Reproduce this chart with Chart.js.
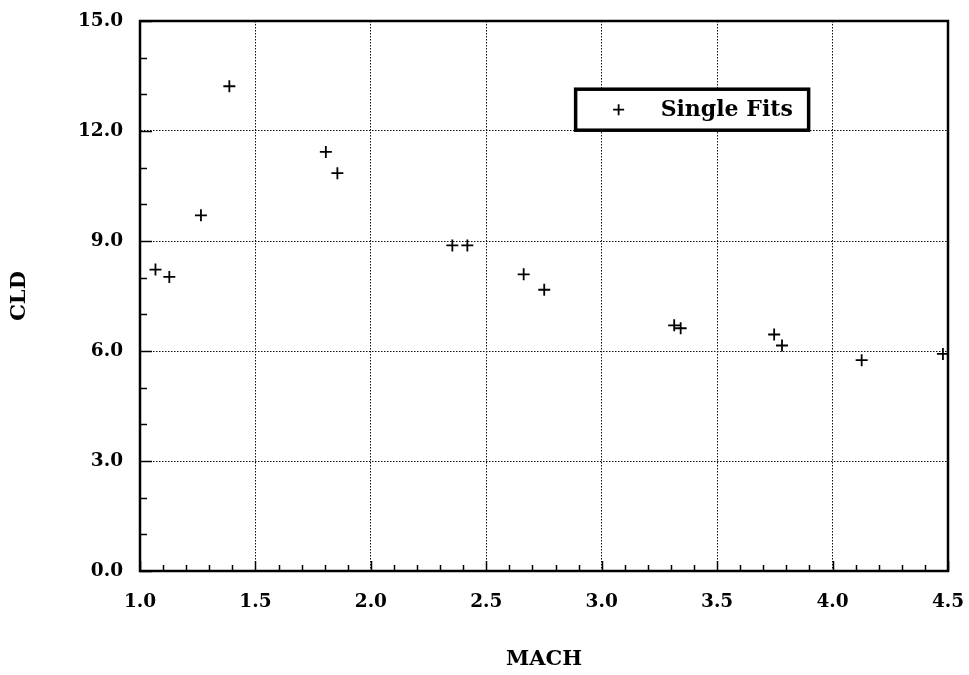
<!DOCTYPE html>
<html>
<head>
<meta charset="utf-8">
<script src="https://cdn.jsdelivr.net/npm/chart.js@4/dist/chart.umd.min.js"></script>
<style>
  html, body { margin: 0; padding: 0; background: #fff; }
  #wrap { width: 969px; height: 675px; }
</style>
</head>
<body>
<div id="wrap"><canvas id="c" width="969" height="675"></canvas></div>
<script>
// ---- Data ----
const seriesLabel = 'Single Fits';
const mach = [1.067, 1.127, 1.264, 1.387, 1.805, 1.855, 2.353, 2.418, 2.662, 2.751, 3.314, 3.342, 3.747, 3.781, 4.126, 4.478];
const cld  = [8.22, 8.02, 9.70, 13.22, 11.43, 10.85, 8.88, 8.88, 8.09, 7.67, 6.70, 6.62, 6.45, 6.15, 5.75, 5.92];
const xTicks = [1.0, 1.5, 2.0, 2.5, 3.0, 3.5, 4.0, 4.5];
const yTicks = [0.0, 3.0, 6.0, 9.0, 12.0, 15.0];
const xMinorStep = 0.1;
const yMinorStep = 1.0;
const xTitle = 'MACH';
const yTitle = 'CLD';

const FONT = "'DejaVu Serif', 'Liberation Serif', serif";

const points = mach.map((x, i) => ({ x: x, y: cld[i] }));

const framePlugin = {
  id: 'frameAndTicks',
  afterDatasetsDraw(chart) {
    const ctx = chart.ctx;
    const a = chart.chartArea;
    const xs = chart.scales.x, ys = chart.scales.y;
    ctx.save();
    ctx.strokeStyle = '#000';
    // inward ticks on x (bottom)
    ctx.lineWidth = 1.5;
    const xmin = xTicks[0], xmax = xTicks[xTicks.length - 1];
    const nx = Math.round((xmax - xmin) / xMinorStep);
    for (let i = 0; i <= nx; i++) {
      const v = xmin + i * xMinorStep;
      const isMajor = xTicks.some(t => Math.abs(t - v) < 1e-6);
      const px = Math.round(xs.getPixelForValue(v)) + 0.5;
      const len = isMajor ? 10 : 6;
      ctx.beginPath();
      ctx.moveTo(px, a.bottom);
      ctx.lineTo(px, a.bottom - len);
      ctx.stroke();
    }
    const ymin = yTicks[0], ymax = yTicks[yTicks.length - 1];
    const ny = Math.round((ymax - ymin) / yMinorStep);
    for (let i = 0; i <= ny; i++) {
      const v = ymin + i * yMinorStep;
      const isMajor = yTicks.some(t => Math.abs(t - v) < 1e-6);
      const py = Math.round(ys.getPixelForValue(v)) + 0.5;
      const len = isMajor ? 12 : 7;
      ctx.beginPath();
      ctx.moveTo(a.left, py);
      ctx.lineTo(a.left + len, py);
      ctx.stroke();
    }
    // frame
    ctx.lineWidth = 2.5;
    ctx.strokeRect(a.left, a.top, a.right - a.left, a.bottom - a.top);

    // legend box
    const bx = xs.getPixelForValue(2.887), by = ys.getPixelForValue(13.14);
    const bw = 233, bh = 41;
    ctx.fillStyle = '#fff';
    ctx.fillRect(bx, by, bw, bh);
    ctx.lineWidth = 3.5;
    ctx.strokeRect(bx, by, bw, bh);
    const cy = by + bh / 2;
    const cx = bx + 43;
    ctx.lineWidth = 1.8;
    ctx.beginPath();
    ctx.moveTo(cx - 5.5, cy); ctx.lineTo(cx + 5.5, cy);
    ctx.moveTo(cx, cy - 5.5); ctx.lineTo(cx, cy + 5.5);
    ctx.stroke();
    ctx.fillStyle = '#000';
    ctx.font = "bold 22px " + FONT;
    ctx.textAlign = 'left';
    ctx.textBaseline = 'middle';
    ctx.fillText(chart.data.datasets[0].label, bx + 85, cy + 1);
    ctx.restore();
  }
};

new Chart(document.getElementById('c'), {
  type: 'scatter',
  data: {
    datasets: [{
      label: seriesLabel,
      data: points,
      pointStyle: 'cross',
      pointRadius: 6,
      pointHoverRadius: 6,
      borderColor: '#000',
      backgroundColor: '#000',
      borderWidth: 1.8
    }]
  },
  options: {
    responsive: false,
    animation: false,
    devicePixelRatio: 1,
    layout: { padding: { left: 0, right: 21, top: 21, bottom: 0 } },
    plugins: {
      legend: { display: false },
      tooltip: { enabled: false }
    },
    scales: {
      x: {
        type: 'linear',
        min: xTicks[0],
        max: xTicks[xTicks.length - 1],
        afterBuildTicks: (s) => { s.ticks = xTicks.map(v => ({ value: v })); },
        afterFit: (s) => { s.height = 104; s.paddingLeft = 0; s.paddingRight = 0; },
        ticks: {
          color: '#000',
          padding: 20,
          maxRotation: 0,
          font: { family: FONT, size: 18.5, weight: 'bold' },
          callback: (v) => Number(v).toFixed(1)
        },
        grid: {
          color: '#111',
          lineWidth: 1,
          drawTicks: false
        },
        border: { display: true, color: '#000', width: 2, dash: [1.5, 1.5] },
        title: {
          display: true,
          text: xTitle,
          color: '#000',
          font: { family: FONT, size: 21, weight: 'bold' },
          padding: { top: 0, bottom: 3 }
        }
      },
      y: {
        type: 'linear',
        min: yTicks[0],
        max: yTicks[yTicks.length - 1],
        afterBuildTicks: (s) => { s.ticks = yTicks.map(v => ({ value: v })); },
        afterFit: (s) => { s.width = 140; s.paddingTop = 0; s.paddingBottom = 0; },
        ticks: {
          color: '#000',
          padding: 17,
          font: { family: FONT, size: 18.5, weight: 'bold' },
          callback: (v) => Number(v).toFixed(1)
        },
        grid: {
          color: '#111',
          lineWidth: 1,
          drawTicks: false
        },
        border: { display: true, color: '#000', width: 2, dash: [1.5, 1.5] },
        title: {
          display: true,
          text: yTitle,
          color: '#000',
          font: { family: FONT, size: 21, weight: 'bold' },
          padding: { top: 7, bottom: 0 }
        }
      }
    }
  },
  plugins: [framePlugin]
});
</script>
</body>
</html>
